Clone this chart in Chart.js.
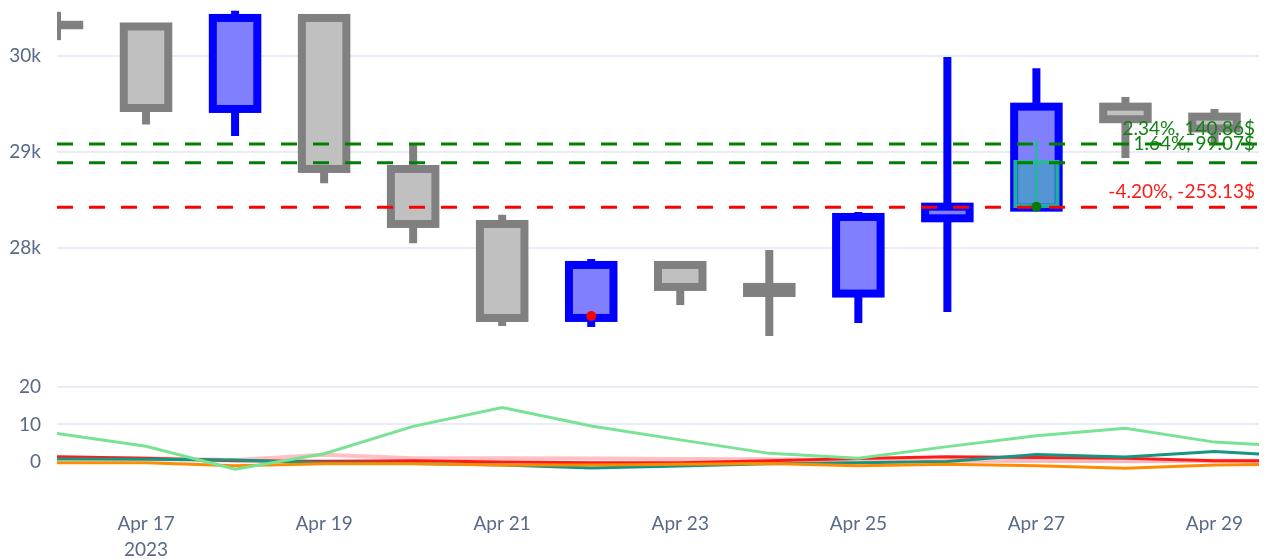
<!DOCTYPE html>
<html><head><meta charset="utf-8">
<script src="https://cdn.jsdelivr.net/npm/chart.js@4.4.1/dist/chart.umd.min.js"></script>
<style>html,body{margin:0;padding:0;background:#fff;overflow:hidden}#wrap{position:relative;width:1265px;height:559px}canvas{display:block}</style>
</head><body><div id="wrap"><canvas id="c" width="1265" height="559"></canvas></div>
<script>
// ---- data ----
const dates = ['2023-04-16','2023-04-17','2023-04-18','2023-04-19','2023-04-20','2023-04-21','2023-04-22','2023-04-23','2023-04-24','2023-04-25','2023-04-26','2023-04-27','2023-04-28','2023-04-29','2023-04-30'];
const openP  = [30325, 30307, 29448, 30396, 28823, 28250, 27271, 27823, 27594, 27525, 28309, 28420, 29472, 29368];
const highP  = [30460, 30310, 30470, 30400, 29085, 28345, 27885, 27825, 27980, 28375, 29990, 29872, 29573, 29448];
const lowP   = [30165, 29285, 29165, 28675, 28050, 27188, 27177, 27405, 27083, 27219, 27333, 28420, 28937, 29090];
const closeP = [30320, 29458, 30396, 28823, 28250, 27271, 27823, 27594, 27531, 28323, 28430, 29472, 29341, 29245];
// overlay (open trade) candle
const ovIdx = [11], ovOpen = [28437], ovHigh = [29135], ovLow = [28437], ovClose = [28896];
// trade levels
const levels = [29083, 28887, 28424];
const levelLabels = ['2.34%, 140.86$', '1.64%, 99.07$', '-4.20%, -253.13$'];
// markers
const sellIdx = [6], sellPrice = [27292];
const buyIdx = [11], buyPrice = [28430];
// indicator series (Apr16..Apr30)
const indLightGreen = [7.6, 4.2, -1.9, 2.2, 9.5, 14.5, 9.6, 5.9, 2.3, 1.0, 4.1, 7.0, 9.0, 5.3, 4.0];
const indOrange     = [-0.2, -0.2, -1.0, -0.5, -0.5, -0.8, -0.8, -0.6, -0.4, -1.0, -0.6, -1.0, -1.7, -0.8, -0.5];
const indTeal       = [0.8, 0.7, 0.5, -0.2, -0.4, -0.8, -1.6, -1.1, -0.5, -0.2, 0.1, 2.0, 1.3, 2.8, 1.5];
const indRed        = [1.4, 1.0, 0.3, 0.2, 0.3, 0.0, -0.2, -0.2, 0.3, 0.9, 1.4, 1.2, 1.0, 0.3, 0.3];
const indPink       = [1.2, 0.9, 0.5, 1.9, 1.0, 1.0, 0.9, 0.8, 0.7, 0.5, 0.4, 0.3, 0.2, 0.3, 0.4];
// ticks
const priceTicks = [28000, 29000, 30000];
const priceTickLabels = ['28k', '29k', '30k'];
const indTicks = [0, 10, 20];
const indTickLabels = ['0', '10', '20'];
const xTickIdx = [1, 3, 5, 7, 9, 11, 13];
const xTickLabels = [['Apr 17', '2023'], 'Apr 19', 'Apr 21', 'Apr 23', 'Apr 25', 'Apr 27', 'Apr 29'];

// ---- layout constants ----
const X_MIN = 0, X_MAX = 13.5;
const FONT = "Lato, 'Open Sans', sans-serif";
const TICK_COLOR = '#5a6987';
const GRID = '#e8edf5';
const UP_LINE = '#0000ff', UP_FILL = '#8080ff', DN_LINE = '#808080', DN_FILL = '#c0c0c0';

const isUp = i => closeP[i] > openP[i];
const wickData = openP.map((o, i) => ({x: i, y: [lowP[i], highP[i]]}));
const bodyData = openP.map((o, i) => ({x: i, y: [openP[i], closeP[i]]}));
const lineData = arr => arr.map((v, i) => ({x: i, y: v}));

const outlinePlugin = {
  id: 'outline',
  afterDatasetDraw(chart, args) {
    const ds = chart.data.datasets[args.index];
    if (!ds.outlineWidth) return;
    const ctx = chart.ctx, a = chart.chartArea;
    ctx.save();
    ctx.beginPath(); ctx.rect(a.left, a.top, a.right - a.left, a.bottom - a.top); ctx.clip();
    ctx.lineJoin = 'miter';
    args.meta.data.forEach((el, i) => {
      const p = el.getProps(['x', 'y', 'base', 'width'], true);
      ctx.lineWidth = ds.outlineWidth;
      ctx.strokeStyle = typeof ds.outlineColor === 'function' ? ds.outlineColor(i) : ds.outlineColor;
      ctx.strokeRect(p.x - p.width / 2, Math.min(p.y, p.base), p.width, Math.max(Math.abs(p.base - p.y), 0.5));
    });
    ctx.restore();
  }
};

const labelPlugin = {
  id: 'levelLabels',
  afterDatasetsDraw(chart) {
    const ctx = chart.ctx, a = chart.chartArea, y = chart.scales.yPrice;
    const shifts = [-15, -19, -15];
    const colors = ['#138013', '#138013', '#ff1a1a'];
    ctx.save();
    ctx.font = "19px " + FONT;
    ctx.textAlign = 'right'; ctx.textBaseline = 'middle';
    levels.forEach((v, i) => {
      ctx.fillStyle = colors[i];
      ctx.fillText(levelLabels[i], a.right - 4, y.getPixelForValue(v) + shifts[i]);
    });
    ctx.restore();
  }
};

const indDs = (data, color, order, width) => ({
  type: 'line', data: lineData(data), yAxisID: 'yInd', borderColor: color, borderWidth: width,
  pointRadius: 0, tension: 0, order
});

Chart.defaults.font.family = FONT;
new Chart(document.getElementById('c'), {
  data: {
    datasets: [
      {type: 'bar', data: wickData, yAxisID: 'yPrice', grouped: false, barThickness: 8, inflateAmount: 0,
       backgroundColor: ctx => isUp(ctx.dataIndex) ? UP_LINE : DN_LINE, borderWidth: 0, order: 16},
      {type: 'bar', data: bodyData, yAxisID: 'yPrice', grouped: false, barThickness: 44.5, inflateAmount: 0,
       backgroundColor: ctx => isUp(ctx.dataIndex) ? UP_FILL : DN_FILL, borderWidth: 0, order: 15,
       outlineWidth: 8, outlineColor: i => isUp(i) ? UP_LINE : DN_LINE},
      {type: 'bar', data: ovIdx.map((x, k) => ({x, y: [ovLow[k], ovHigh[k]]})), yAxisID: 'yPrice', grouped: false,
       barThickness: 3, inflateAmount: 0, backgroundColor: 'rgba(40,185,150,0.9)', borderWidth: 0, order: 14},
      {type: 'bar', data: ovIdx.map((x, k) => ({x, y: [ovOpen[k], ovClose[k]]})), yAxisID: 'yPrice', grouped: false,
       barThickness: 42, inflateAmount: 0, backgroundColor: 'rgba(40,170,170,0.5)', borderWidth: 0, order: 13,
       outlineWidth: 4, outlineColor: 'rgba(40,185,150,0.9)'},
      ...levels.map((v, k) => ({type: 'line', data: [{x: X_MIN, y: v}, {x: X_MAX, y: v}], yAxisID: 'yPrice',
       borderColor: k < 2 ? '#008000' : '#ff0000', borderWidth: 3, borderDash: [16, 16], pointRadius: 0, order: 10})),
      {type: 'line', data: sellIdx.map((x, k) => ({x, y: sellPrice[k]})), yAxisID: 'yPrice', showLine: false,
       pointRadius: 5, pointBackgroundColor: '#ff0000', pointBorderWidth: 0, order: 2},
      {type: 'line', data: buyIdx.map((x, k) => ({x, y: buyPrice[k]})), yAxisID: 'yPrice', showLine: false,
       pointRadius: 5, pointBackgroundColor: '#087a08', pointBorderWidth: 0, order: 1},
      indDs(indPink, 'rgba(255,130,140,0.5)', 24, 4),
      indDs(indRed, '#ff1a1a', 23, 3),
      indDs(indTeal, '#149682', 22, 3),
      indDs(indOrange, '#ff8c00', 21, 3),
      indDs(indLightGreen, '#78e394', 20, 3)
    ]
  },
  options: {
    responsive: false, animation: false, devicePixelRatio: 1,
    layout: {autoPadding: false, padding: {left: 0, right: 6, top: 0, bottom: 0}},
    plugins: {legend: {display: false}, tooltip: {enabled: false}},
    scales: {
      x: {type: 'linear', min: X_MIN, max: X_MAX, bounds: 'data', offset: false,
        grid: {display: false, offset: false, drawTicks: false}, border: {display: false},
        afterBuildTicks: s => { s.ticks = xTickIdx.map(v => ({value: v})); },
        ticks: {autoSkip: false, maxRotation: 0, padding: 6, color: TICK_COLOR, font: {size: 19, lineHeight: 1.37},
          callback: v => xTickLabels[xTickIdx.indexOf(v)]},
        afterFit: s => { s.height = 54; s.paddingLeft = 0; s.paddingRight = 0; }},
      yInd: {type: 'linear', position: 'left', stack: 'v', stackWeight: 150, min: -11.47, max: 28.53, bounds: 'data',
        border: {display: false}, grid: {color: GRID, lineWidth: 2, drawTicks: false},
        afterBuildTicks: s => { s.ticks = indTicks.map(v => ({value: v})); },
        ticks: {padding: 16, color: TICK_COLOR, font: {size: 19}, callback: v => indTickLabels[indTicks.indexOf(v)]},
        afterFit: s => { s.width = 57; s.paddingTop = 0; s.paddingBottom = 0; }},
      yPrice: {type: 'linear', position: 'left', stack: 'v', stackWeight: 355, min: 26885, max: 30583, bounds: 'data',
        border: {display: false}, grid: {color: GRID, lineWidth: 2, drawTicks: false},
        afterBuildTicks: s => { s.ticks = priceTicks.map(v => ({value: v})); },
        ticks: {padding: 16, color: TICK_COLOR, font: {size: 19}, callback: v => priceTickLabels[priceTicks.indexOf(v)]},
        afterFit: s => { s.width = 57; s.paddingTop = 0; s.paddingBottom = 0; }}
    }
  },
  plugins: [outlinePlugin, labelPlugin]
});
</script></body></html>
